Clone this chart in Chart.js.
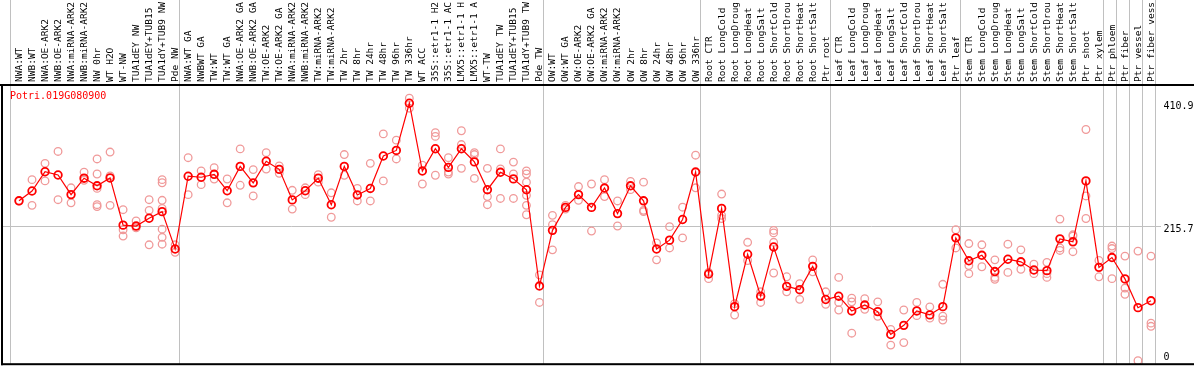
<!DOCTYPE html>
<html>
<head>
<meta charset="utf-8">
<script src="https://cdn.jsdelivr.net/npm/chart.js@4.4.1/dist/chart.umd.min.js"></script>
<style>
  html, body { margin: 0; padding: 0; background: #fff; }
  canvas { display: block; }
</style>
</head>
<body>
<canvas id="chart" width="1194" height="370"></canvas>
<script>
// gene shown in the plot
const geneName = "Potri.019G080900";

// sample names, left to right
const categories = [
  "NWA:WT", "NWB:WT", "NWA:OE-ARK2", "NWB:OE-ARK2", "NWA:miRNA-ARK2", "NWB:miRNA-ARK2",
  "NW 0hr", "WT H2O", "WT-NW", "TUA1dEY NW", "TUA1dEY+TUB15", "TUA1dY+TUB9 NW", "Pde NW",
  "NWA:WT GA", "NWBWT GA", "TW:WT", "TW:WT GA", "NWA:OE-ARK2 GA", "NWB:OE-ARK2 GA",
  "TW:OE-ARK2", "TW:OE-ARK2 GA", "NWA:miRNA-ARK2", "NWB:miRNA-ARK2", "TW:miRNA-ARK2", "TW:miRNA-ARK2",
  "TW 2hr", "TW 8hr", "TW 24hr", "TW 48hr", "TW 96hr", "TW 336hr", "WT ACC",
  "35S::etr1-1 H2", "35S::etr1-1 AC", "LMX5::etr1-1 H", "LMX5::etr1-1 A",
  "WT-TW", "TUA1dEY TW", "TUA1dEY+TUB15", "TUA1dY+TUB9 TW", "Pde TW",
  "OW:WT", "OW:WT GA", "OW:OE-ARK2", "OW:OE-ARK2 GA", "OW:miRNA-ARK2", "OW:miRNA-ARK2",
  "OW 2hr", "OW 8hr", "OW 24hr", "OW 48hr", "OW 96hr", "OW 336hr",
  "Root CTR", "Root LongCold", "Root LongDroug", "Root LongHeat", "Root LongSalt",
  "Root ShortCold", "Root ShortDrou", "Root ShortHeat", "Root ShortSalt", "Ptr root",
  "Leaf CTR", "Leaf LongCold", "Leaf LongDroug", "Leaf LongHeat", "Leaf LongSalt",
  "Leaf ShortCold", "Leaf ShortDrou", "Leaf ShortHeat", "Leaf ShortSalt", "Ptr leaf",
  "Stem CTR", "Stem LongCold", "Stem LongDroug", "Stem LongHeat", "Stem LongSalt",
  "Stem ShortCold", "Stem ShortDrou", "Stem ShortHeat", "Stem ShortSalt", "Ptr shoot", "Ptr xylem",
  "Ptr phloem", "Ptr fiber", "Ptr vessel", "Ptr fiber vess"
];

// mean expression (red line)
const means = [
  255.2, 270.9, 301.6, 296.4, 265.1, 291.3, 279.2, 291.7, 216.4, 214.9, 227.4, 237.9, 178.3,
  294.4, 292.8, 297.5, 271.3, 310.1, 283.9, 318.4, 305.4, 256.7, 271.3, 291.3, 248.9, 310.1,
  264.6, 274.9, 326.7, 335.6, 410.9, 302.7, 338.3, 308.5, 338.3, 317.3, 272.9, 300.7, 290.2,
  272.9, 119.2,
  208.1, 244.7, 265.1, 244.7, 275.6, 234.8, 279.2, 255.2, 178.3, 192.4, 225.4, 301.1,
  138.5, 243.1, 86.3, 169.9, 103.0, 181.5, 118.7, 113.4, 150.6, 97.7,
  103.0, 79.5, 88.9, 78.4, 41.9, 56.5, 79.5, 73.2, 86.3, 196.1,
  159.5, 168.3, 142.3, 162.0, 157.9, 144.8, 143.8, 194.5, 189.8, 287.0, 149.0,
  164.7, 130.6, 84.7, 95.7
];

// single replicates (pale circles), one list per sample
const replicates = [
  [255], [289, 248], [315, 287], [334, 257], [276, 252], [301, 288],
  [322, 298, 275, 249, 246], [333, 295, 248], [241, 209, 199], [223, 212], [257, 240, 185],
  [289, 284, 256, 243, 210, 197, 186], [185, 173],
  [324, 265], [303, 281], [308, 290], [290, 252], [338, 280], [305, 263], [332, 306], [311, 299],
  [272, 242], [276, 265], [297, 285], [268, 229], [329, 296], [275, 255], [315, 255], [362, 287],
  [352, 322], [419, 403], [312, 282], [364, 358, 296], [324, 301, 298], [367, 345, 307],
  [332, 329, 291], [307, 262, 249], [338, 306, 259], [317, 298, 259], [303, 298, 285, 264, 248, 233],
  [137, 93],
  [232, 217, 177], [248, 242], [278, 256], [282, 207], [289, 262], [255, 215], [286, 273],
  [285, 240, 238], [188, 161], [214, 180], [245, 196], [328, 276],
  [141, 131], [266, 232, 227], [91, 73], [189, 160], [110, 93], [208, 204, 189, 140], [134, 110],
  [123, 98], [161, 142], [110, 90],
  [133, 93, 81], [100, 94, 44], [99, 82], [94, 71], [50, 25], [81, 29], [93, 72], [86, 68],
  [122, 71, 65], [209, 180],
  [187, 152, 139], [185, 150], [161, 133, 130], [186, 141], [177, 146], [154, 139], [157, 139, 133],
  [226, 180, 176], [201, 199, 174], [369, 263, 227], [160, 134],
  [183, 179, 131], [167, 116, 106], [175, 0], [167, 60, 55]
];

// sample index where each group starts (vertical separators)
const groupBreaks = [0, 13, 41, 53, 63, 73, 84, 85, 86, 87, 88];

// right hand axis
const yTickValues = [410.9, 215.7, 0];
const yTickLabels = ["410.9", "215.7", "0"];
const gridValue = 215.7;

// styles
const red = "#ff0000";
const pale = "#f09a9a";
const gridColor = "#c0c0c0";
const mono = '"DejaVu Sans Mono", "Liberation Mono", monospace';
const breakOffset = 0.69; // separators sit a bit left of the sample cell

const meanPoints = means.map((v, i) => ({ x: i, y: v }));
const repPoints = [];
replicates.forEach((vals, i) => vals.forEach((v) => repPoints.push({ x: i, y: v })));

const decor = {
  id: "decor",
  beforeDatasetsDraw(chart) {
    const { ctx, chartArea: a, scales: { x, y } } = chart;
    ctx.save();
    ctx.strokeStyle = gridColor;
    ctx.lineWidth = 1;
    groupBreaks.forEach((k) => {
      const px = Math.round(x.getPixelForValue(k - breakOffset)) + 0.5;
      ctx.beginPath();
      ctx.moveTo(px, 0);
      ctx.lineTo(px, a.bottom);
      ctx.stroke();
    });
    const gy = Math.round(y.getPixelForValue(gridValue)) + 0.5;
    ctx.beginPath();
    ctx.moveTo(2, gy);
    ctx.lineTo(1161, gy);
    ctx.stroke();
    ctx.restore();
  },
  afterDatasetsDraw(chart) {
    const { ctx, chartArea: a, scales: { x, y } } = chart;
    ctx.save();
    // black frame
    ctx.fillStyle = "#000";
    ctx.fillRect(0, 84, chart.width, 2);
    ctx.fillRect(1, 84, 2, a.bottom - 84 + 1);
    ctx.fillRect(1, a.bottom - 1, chart.width, 2);

    // sample names, rotated
    ctx.font = "9.5px " + mono;
    ctx.textAlign = "left";
    ctx.textBaseline = "middle";
    categories.forEach((lab, i) => {
      const px = x.getPixelForValue(i);
      ctx.save();
      ctx.translate(px + 0.5, 82);
      ctx.rotate(-Math.PI / 2);
      ctx.fillText(lab, 0, 0);
      ctx.restore();
    });

    // gene name
    ctx.font = "10px " + mono;
    ctx.fillStyle = red;
    ctx.fillText(geneName, 10, 96.5);

    // y labels
    ctx.fillStyle = "#000";
    yTickValues.forEach((v, i) => {
      const py = y.getPixelForValue(v);
      ctx.fillText(yTickLabels[i], 1163.5, v === 0 ? py - 3.5 : py + 3.5);
    });
    ctx.restore();
  }
};

new Chart(document.getElementById("chart"), {
  type: "line",
  data: {
    datasets: [
      {
        label: "mean",
        data: meanPoints,
        borderColor: red,
        borderWidth: 1.2,
        pointRadius: 3.8,
        pointBorderWidth: 1.8,
        pointBorderColor: red,
        pointBackgroundColor: "rgba(0,0,0,0)",
        tension: 0,
        order: 0
      },
      {
        type: "scatter",
        label: "replicates",
        data: repPoints,
        showLine: false,
        pointRadius: 3.8,
        pointBorderWidth: 1.3,
        pointBorderColor: pale,
        pointBackgroundColor: "rgba(0,0,0,0)",
        order: 1
      }
    ]
  },
  options: {
    responsive: false,
    animation: false,
    devicePixelRatio: 1,
    layout: { padding: { left: 12.5, right: 36.5, top: 85, bottom: 1 } },
    plugins: {
      legend: { display: false },
      tooltip: { enabled: false },
      title: { display: false }
    },
    scales: {
      x: { type: "linear", min: -0.5, max: 87.5, display: false },
      y: { type: "linear", min: -5.5, max: 440, display: false }
    }
  },
  plugins: [decor]
});
</script>
</body>
</html>
